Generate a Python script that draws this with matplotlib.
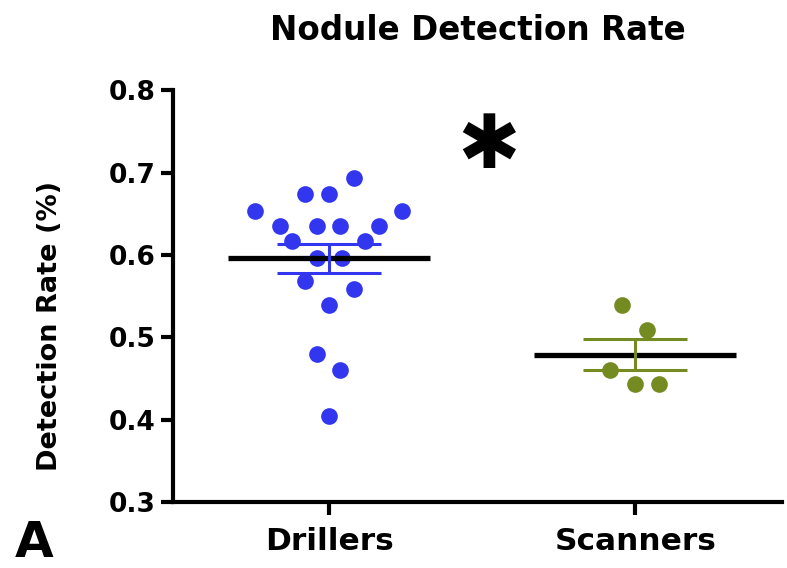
import numpy as np
import matplotlib
matplotlib.use("Agg")
import matplotlib.pyplot as plt

plt.rcParams['font.family'] = ['DejaVu Sans']
plt.rcParams['font.weight'] = 'bold'

categories = ["Drillers", "Scanners"]
drillers = [0.693, 0.674, 0.674, 0.654, 0.654, 0.635, 0.635, 0.635, 0.635,
            0.617, 0.617, 0.596, 0.596, 0.568, 0.559, 0.539, 0.480, 0.461, 0.404]
drillers_jitter = [0.082, -0.078, 0.0, -0.242, 0.239, -0.160, -0.039, 0.036, 0.163,
                   -0.121, 0.118, -0.039, 0.042, -0.078, 0.082, 0.0, -0.039, 0.036, 0.0]
scanners = [0.539, 0.509, 0.461, 0.443, 0.444]
scanners_jitter = [-0.042, 0.039, -0.082, 0.0, 0.078]
yticks = [0.3, 0.4, 0.5, 0.6, 0.7, 0.8]

colors = ['#3236ee', '#748b22']

fig = plt.figure(figsize=(7.87, 5.68), dpi=100)
ax = fig.add_axes([0.22, 0.116, 0.774, 0.725])

groups = [(drillers, drillers_jitter), (scanners, scanners_jitter)]
for i, (vals, jit) in enumerate(groups):
    vals = np.array(vals)
    xs = i + np.array(jit)
    ax.plot(xs, vals, 'o', color=colors[i], markersize=12, mew=0, zorder=3)
    m = vals.mean()
    sem = vals.std(ddof=1) / np.sqrt(len(vals))
    ax.hlines(m, i - 0.33, i + 0.33, color='black', lw=3.8, zorder=4)
    ax.hlines([m - sem, m + sem], i - 0.17, i + 0.17, color=colors[i], lw=2.2, zorder=5)
    ax.vlines(i, m - sem, m + sem, color=colors[i], lw=2.2, zorder=5)

ax.set_xlim(-0.51, 1.48)
ax.set_ylim(0.3, 0.8)
ax.set_yticks(yticks)
ax.set_yticklabels([f"{t:.1f}" for t in yticks])
ax.set_xticks([0, 1])
ax.set_xticklabels(categories)
for s in ['top', 'right']:
    ax.spines[s].set_visible(False)
for s in ['left', 'bottom']:
    ax.spines[s].set_linewidth(3)
ax.tick_params(width=3, length=9, labelsize=19)
ax.tick_params(axis='x', labelsize=22.5, pad=9)
for lab in ax.get_xticklabels() + ax.get_yticklabels():
    lab.set_fontweight('bold')

ax.set_ylabel("Detection Rate (%)", fontsize=19.5, fontweight='bold')
ax.yaxis.set_label_coords(-0.18, 0.427)
ax.set_title("Nodule Detection Rate", fontsize=23.5, fontweight='bold', pad=36)

ax.text(0.52, 0.731, "✱", transform=ax.transData, fontsize=54,
        ha='center', va='center')
fig.text(0.043, 0.002, "A", fontsize=36, fontweight='bold', ha='center', va='bottom')

fig.savefig("out.png", dpi=100)
